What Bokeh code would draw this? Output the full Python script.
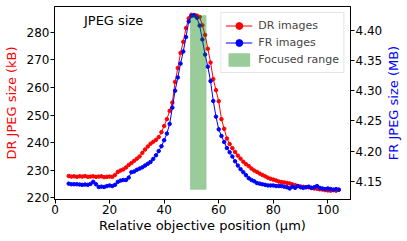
import math
from bokeh.plotting import figure
from bokeh.layouts import row
from bokeh.models import Range1d, LinearAxis, FixedTicker, NumeralTickFormatter, Legend, LegendItem, Label
from bokeh.core.properties import value
from bokeh.embed import file_html
from bokeh.resources import INLINE

# ---- data ----
positions = list(range(5, 105))
dr_kb = [227.9, 227.7, 227.8, 227.6, 227.8, 227.7, 227.9, 227.6, 227.7, 227.8,
         227.6, 227.7, 227.8, 227.5, 227.6, 227.7, 227.6,
         228.3, 229.4, 229.9, 230.3, 231.0, 231.9, 232.6, 233.4, 234.2,
         235.0, 236.3, 237.5, 238.6, 239.6, 240.3, 241.0, 242.0, 243.8, 246.0,
         248.5, 251.5, 254.5, 262.0, 267.0, 272.5, 276.5, 281.5, 285.0, 286.3,
         286.2, 286.0, 285.5, 282.5, 279.0, 274.0, 269.0, 263.0, 259.0, 255.0,
         248.5, 245.0, 241.5, 239.5, 238.0, 236.6, 235.3, 234.2, 233.1, 232.2,
         231.5, 230.6, 229.9, 229.4, 228.8, 228.3, 227.8, 227.3, 226.9, 226.6,
         226.3, 225.9, 225.7, 225.6, 225.4, 225.2, 224.9, 224.6, 224.3, 224.1,
         224.0, 223.9, 223.8, 223.6, 223.4, 223.3, 223.1, 223.0, 222.8, 222.7,
         222.6, 222.8, 222.6, 222.9]
fr_mb = [4.146, 4.145, 4.145, 4.145, 4.1445, 4.144, 4.1445, 4.144, 4.1455, 4.149,
         4.145, 4.1405, 4.141, 4.1405, 4.142, 4.143, 4.142, 4.144, 4.149, 4.151,
         4.152, 4.152, 4.156, 4.165, 4.166, 4.169, 4.171, 4.173, 4.176, 4.179,
         4.182, 4.187, 4.193, 4.200, 4.208, 4.218, 4.229, 4.245, 4.272, 4.300,
         4.322, 4.345, 4.365, 4.389, 4.415, 4.424, 4.425, 4.421, 4.408, 4.385,
         4.360, 4.340, 4.316, 4.283, 4.257, 4.236, 4.225, 4.215, 4.205, 4.198,
         4.191, 4.183, 4.176, 4.170, 4.165, 4.160, 4.155, 4.152, 4.150, 4.147,
         4.146, 4.145, 4.144, 4.143, 4.143, 4.143, 4.142, 4.142, 4.142, 4.141,
         4.140, 4.138, 4.141, 4.139, 4.142, 4.140, 4.139, 4.140, 4.141, 4.139,
         4.140, 4.142, 4.139, 4.138, 4.137, 4.138, 4.137, 4.136, 4.137, 4.136]
focused_range = [49.5, 55.5]
x_ticks = [0, 20, 40, 60, 80, 100]
left_ticks = [220, 230, 240, 250, 260, 270, 280]
right_ticks = [4.15, 4.20, 4.25, 4.30, 4.35, 4.40]

FONT = "DejaVu Sans"
FRAME_H = 193
TOP = 6
BOTTOM = 42

p = figure(frame_width=296, frame_height=FRAME_H, output_backend="svg", toolbar_location=None,
           x_range=Range1d(-0.2, 108.3), y_range=Range1d(219.4, 289.3),
           min_border_left=53, min_border_right=37, min_border_top=TOP, min_border_bottom=BOTTOM)
p.extra_y_ranges = {"fr": Range1d(4.1197, 4.4397)}
p.grid.visible = False
p.outline_line_color = "black"
p.outline_line_width = 1
p.background_fill_color = "white"
p.border_fill_color = "white"

ax_r = LinearAxis(y_range_name="fr")
p.add_layout(ax_r, "right")

for ax in [p.xaxis[0], p.yaxis[0], ax_r]:
    ax.major_label_text_font = FONT
    ax.major_label_text_font_size = "12px"
    ax.major_label_text_color = "black"
    ax.axis_label_text_font = FONT
    ax.axis_label_text_font_size = "13px"
    ax.axis_label_text_font_style = "normal"
    ax.axis_label_text_color = "black"
    ax.minor_tick_line_color = None
    ax.major_tick_in = 0
    ax.major_tick_out = 4
    ax.major_label_standoff = 1
    ax.axis_label_standoff = 2
    ax.axis_line_color = "black"
    ax.major_tick_line_color = "black"

p.xaxis[0].ticker = FixedTicker(ticks=x_ticks)
p.xaxis[0].axis_label = "Relative objective position (µm)"
p.xaxis[0].axis_label_standoff = 1
p.yaxis[0].ticker = FixedTicker(ticks=left_ticks)
p.yaxis[0].axis_label = "DR JPEG size (kB)"
p.yaxis[0].axis_label_text_color = "red"
p.yaxis[0].axis_label_standoff = 5
ax_r.ticker = FixedTicker(ticks=right_ticks)
ax_r.formatter = NumeralTickFormatter(format="0.00")

dr_line = p.line(positions, dr_kb, color="red", line_width=1)
dr_pts = p.scatter(positions, dr_kb, color="red", size=3.5, marker="circle")
fr_line = p.line(positions, fr_mb, color="blue", line_width=1, y_range_name="fr")
fr_pts = p.scatter(positions, fr_mb, color="blue", size=3.5, marker="circle", y_range_name="fr")
band = p.quad(left=focused_range[0], right=focused_range[1], bottom=min(fr_mb), top=max(fr_mb),
              y_range_name="fr", fill_color="green", fill_alpha=0.4, line_color=None)

legend = Legend(items=[
    LegendItem(label="DR images", renderers=[dr_line, dr_pts]),
    LegendItem(label="FR images", renderers=[fr_line, fr_pts]),
    LegendItem(label="Focused range", renderers=[band]),
], location="top_right")
legend.label_text_font = FONT
legend.label_text_font_size = "11px"
legend.border_line_color = "#cccccc"
legend.border_line_width = 1
legend.background_fill_alpha = 0.8
legend.margin = 6
legend.padding = 4
legend.spacing = 0
legend.glyph_width = 27
legend.glyph_height = 17
legend.label_height = 17
legend.label_standoff = 6
p.add_layout(legend)

p.add_layout(Label(x=10.6, y=284.2, text="JPEG size", text_font=FONT, text_font_size="13px",
                   text_baseline="middle", text_color="black"))

# narrow companion figure carrying the right axis title (reads bottom-to-top)
p2 = figure(frame_width=21, frame_height=FRAME_H, output_backend="svg", toolbar_location=None,
            x_range=Range1d(0, 21), y_range=Range1d(0, 1), x_axis_type=None, y_axis_type=None,
            min_border_left=0, min_border_right=0, min_border_top=TOP, min_border_bottom=BOTTOM)
p2.grid.visible = False
p2.outline_line_color = None
p2.text(x=[5.5], y=[0.5], text=["FR JPEG size (MB)"], angle=math.pi / 2,
        text_align="center", text_baseline="middle", text_color="blue",
        text_font=value(FONT), text_font_size="13px")

layout = row(p, p2)
open("out.html", "w").write(file_html(layout, INLINE))
